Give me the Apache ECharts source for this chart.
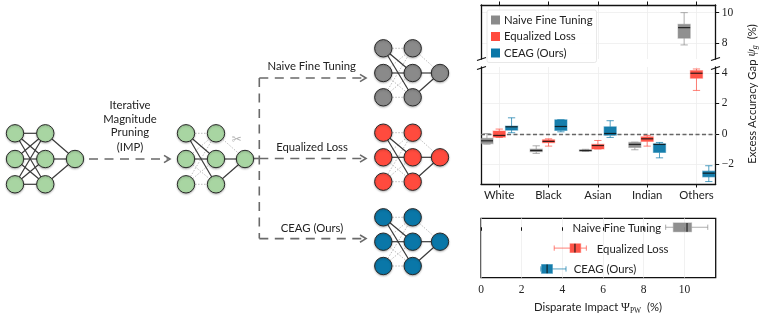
<!DOCTYPE html>
<html><head><meta charset="utf-8">
<style>html,body{margin:0;padding:0;background:#fff}#c{width:761px;height:316px}</style>
<script src="https://cdn.jsdelivr.net/npm/echarts@6/dist/echarts.min.js"></script>
</head><body><div id="c"></div>
<script>
// ---- chart data: [low whisker, q1, median, q3, high whisker]
const groups = ['White','Black','Asian','Indian','Others'];
const methods = ['Naive Fine Tuning','Equalized Loss','CEAG (Ours)'];
const colors = ['#8a8a8a','#ff4b3e','#0a77a8'];
const naiveGap = [[-0.68,-0.64,-0.46,-0.30,0.02],[-1.29,-1.18,-1.10,-1.00,-0.79],[-1.16,-1.14,-1.10,-1.05,-1.02],[-1.05,-0.90,-0.70,-0.57,-0.55],[7.89,8.33,9.02,9.24,10.0]];
const equalGap = [[-0.24,-0.22,-0.11,0.18,0.31],[-0.81,-0.59,-0.50,-0.39,-0.33],[-1.00,-1.00,-0.77,-0.70,-0.44],[-0.81,-0.50,-0.33,-0.20,-0.11],[2.85,3.65,3.98,4.15,4.26]];
const ceagGap = [[0.07,0.24,0.46,0.50,1.05],[0.13,0.22,0.48,0.92,0.92],[-0.24,-0.09,0.02,0.46,0.86],[-1.58,-1.23,-0.70,-0.66,-0.57],[-3.14,-2.83,-2.59,-2.46,-2.10]];
const gapByMethod = [naiveGap, equalGap, ceagGap];
const impactByMethod = [[9.08,9.46,10.13,10.35,11.15],[3.60,4.38,4.62,4.90,5.18],[2.94,2.98,3.25,3.51,4.18]];
const xTickValues = [0,1,2,3,4];
const upperTicks = [8,10];
const lowerTicks = [-2,0,2,4];
const impactTicks = [0,2,4,6,8,10];

// ---- schematic layout (drawing only)
const netGreen = '#a8d5a2';
const netLayouts = [
  {xs:[15,45.3,75],   ys:[133.3,159,184.3], color:netGreen, full:true},
  {xs:[186,216,245],  ys:[133.3,159,184.3], color:netGreen},
  {xs:[383.3,412.7,440], ys:[48.3,73,97.3], color:colors[1-1]},
  {xs:[383.3,412.7,440], ys:[132.7,157.3,181.7], color:colors[1]},
  {xs:[383.3,412.7,440], ys:[217.3,241.7,266], color:colors[2]}
];
const fullEdges = [[0,3],[0,4],[0,5],[1,3],[1,4],[1,5],[2,3],[2,4],[2,5],[3,6],[4,6],[5,6]];
const keptEdges = [[0,4],[0,5],[1,4],[4,6],[5,6]];
const prunedEdges = [[0,3],[1,3],[1,5],[2,3],[2,4],[2,5],[3,6]];
const dashPaths = [
  [[89,159],[168,159]],
  [[254,158.5],[259.3,158.5]],
  [[259.3,78],[259.3,238.6]],
  [[259.3,78],[365,78]],
  [[259.3,158.5],[365,158.5]],
  [[259.3,238.6],[365,238.6]]
];
const arrowTips = [[170,159],[366,78],[366,158.5],[366,238.6]];
const breakMarks = [[477,60.5,486,57.5],[477,69.5,486,66.5],[711,60.5,720,57.5],[711,69.5,720,66.5]];

const SANS = 'Lato';
const SERIF = '"Liberation Serif"';
const L = 481, W = 234.7;
const frame = {color:'#111', width:1.3};

function boxItem(vals, pos, half, horizontal, color, api){
  const pt = (v, p) => horizontal ? api.coord([v, p]) : api.coord([p, v]);
  const seg = (a,b,style) => ({type:'line', shape:{x1:a[0],y1:a[1],x2:b[0],y2:b[1]}, style});
  const [lo,q1,med,q3,hi] = vals;
  const wh = {stroke:color, opacity:0.7, lineWidth:1};
  const capH = half*0.6;
  const c1 = pt(q1,pos-half), c2 = pt(q3,pos+half);
  return {type:'group', children:[
    seg(pt(lo,pos),pt(q1,pos),wh), seg(pt(q3,pos),pt(hi,pos),wh),
    seg(pt(lo,pos-capH),pt(lo,pos+capH),wh), seg(pt(hi,pos-capH),pt(hi,pos+capH),wh),
    {type:'rect', shape:{x:Math.min(c1[0],c2[0]),y:Math.min(c1[1],c2[1]),width:Math.abs(c2[0]-c1[0]),height:Math.abs(c2[1]-c1[1])},
      style:{fill:color, stroke:color, strokeOpacity:0.45, lineWidth:1.2, opacity:0.95}},
    seg(pt(med,pos-half),pt(med,pos+half),{stroke:'#111', lineWidth:1.2, opacity:0.85})
  ]};
}
const series = [];
methods.forEach((name,m)=>{
  const offset = (m-1)*0.25;
  [0,1].forEach(panel=>{
    series.push({
      type:'custom', name, coordinateSystem:'cartesian2d', xAxisIndex:panel, yAxisIndex:panel*2, clip:true, z:3,
      itemStyle:{color:colors[m]},
      data: gapByMethod[m].map((v,i)=>[i].concat(v)),
      encode:{x:0,y:[1,2,3,4,5]},
      renderItem:(p,api)=>boxItem([1,2,3,4,5].map(k=>api.value(k)), api.value(0)+offset, 0.123, false, colors[m], api),
      markLine: panel===1&&m===0 ? {silent:true,symbol:'none',label:{show:false},animation:false,
        lineStyle:{color:'#666',type:[4,2.5],width:1.4},data:[{yAxis:0}],z:1} : undefined
    });
  });
  series.push({
    type:'custom', name, coordinateSystem:'cartesian2d', xAxisIndex:2, yAxisIndex:4, clip:true, z:3,
    itemStyle:{color:colors[m]},
    data:[[m].concat(impactByMethod[m])],
    encode:{x:[1,2,3,4,5],y:0},
    renderItem:(p,api)=>boxItem([1,2,3,4,5].map(k=>api.value(k)), api.value(0), 0.21, true, colors[m], api)
  });
});

// ---- schematic on a hidden page-sized cartesian grid
const edgeData = [];
netLayouts.forEach(n=>{
  const px = i => i<3?[n.xs[0],n.ys[i]]: i<6?[n.xs[1],n.ys[i-3]]:[n.xs[2],n.ys[1]];
  const add=(list,kept)=>list.forEach(([a,b])=>edgeData.push([...px(a),...px(b),kept]));
  if(n.full) add(fullEdges,1); else { add(prunedEdges,0); add(keptEdges,1); }
});
series.push({type:'custom',silent:true,xAxisIndex:3,yAxisIndex:5,z:1,data:edgeData,encode:{x:[0,2],y:[1,3]},
  renderItem:(p,api)=>{
    const a=api.coord([api.value(0),api.value(1)]),b=api.coord([api.value(2),api.value(3)]),k=api.value(4);
    return {type:'line',shape:{x1:a[0],y1:a[1],x2:b[0],y2:b[1]},
      style:k?{stroke:'#3a3a3a',lineWidth:1.2}:{stroke:'#b5b5b5',lineWidth:0.9,lineDash:[1.5,1.5]}};
  }});
const nodeData=[];
netLayouts.forEach(n=>{
  n.ys.forEach(y=>{nodeData.push({value:[n.xs[0],y],itemStyle:{color:n.color}});nodeData.push({value:[n.xs[1],y],itemStyle:{color:n.color}});});
  nodeData.push({value:[n.xs[2],n.ys[1]],itemStyle:{color:n.color}});
});
series.push({type:'scatter',silent:true,xAxisIndex:3,yAxisIndex:5,z:2,symbolSize:17.4,data:nodeData,
  itemStyle:{opacity:1,borderColor:'#2a2a2a',borderWidth:1,shadowBlur:2,shadowColor:'rgba(0,0,0,.25)',shadowOffsetY:1},animation:false});
series.push({type:'custom',silent:true,xAxisIndex:3,yAxisIndex:5,z:1,data:dashPaths.map(d=>[...d[0],...d[1]]),encode:{x:[0,2],y:[1,3]},
  renderItem:(p,api)=>{
    const a=api.coord([api.value(0),api.value(1)]),b=api.coord([api.value(2),api.value(3)]);
    return {type:'line',shape:{x1:a[0],y1:a[1],x2:b[0],y2:b[1]},style:{stroke:'#6a6a6a',lineWidth:1.6,lineDash:[9,6.5]}};
  }});
series.push({type:'custom',silent:true,xAxisIndex:3,yAxisIndex:5,z:1,data:arrowTips,encode:{x:0,y:1},
  renderItem:(p,api)=>{
    const c=api.coord([api.value(0),api.value(1)]);
    return {type:'polyline',shape:{points:[[c[0]-6,c[1]-3.6],[c[0],c[1]],[c[0]-6,c[1]+3.6]]},style:{stroke:'#6a6a6a',fill:'none',lineWidth:1.6}};
  }});
series.push({type:'custom',silent:true,xAxisIndex:3,yAxisIndex:5,z:6,data:breakMarks,encode:{x:[0,2],y:[1,3]},
  renderItem:(p,api)=>{
    const a=api.coord([api.value(0),api.value(1)]),b=api.coord([api.value(2),api.value(3)]);
    return {type:'line',shape:{x1:a[0],y1:a[1],x2:b[0],y2:b[1]},style:{stroke:'#111',lineWidth:1.2}};
  }});

const tickStyle = {show:true,length:3.5,lineStyle:{color:'#111',width:1},inside:false};
const split = {show:true,lineStyle:{color:'#eeeeee',width:0.8}};
const numLabel = {fontFamily:SERIF,fontSize:11.5,color:'#222'};
const fmtNum = v => String(v).replace('-','\u2212');
const sideAxes = (grid,min,max,ticks,extra) => [
  Object.assign({type:'value',gridIndex:grid,position:'right',min,max,
    axisLine:{show:true,onZero:false,lineStyle:frame},axisTick:Object.assign({customValues:ticks},tickStyle),
    axisLabel:Object.assign({customValues:ticks,margin:6,formatter:fmtNum,showMinLabel:true,showMaxLabel:true},numLabel),splitLine:split},extra),
  {type:'value',gridIndex:grid,position:'left',min,max,axisLine:{show:true,onZero:false,lineStyle:frame},axisTick:{show:false},axisLabel:{show:false},splitLine:{show:false}}
];

const t = (text,x,y,extra) => ({type:'text',x,y,z:10,silent:true,style:Object.assign({text,fill:'#222',font:'11.3px '+SANS,align:'center',verticalAlign:'middle'},extra||{})});
const mathRich = {
  g:{fontFamily:SERIF,fontStyle:'italic',fontSize:12,lineHeight:14,fill:'#222'},
  s:{fontFamily:SERIF,fontStyle:'italic',fontSize:8,lineHeight:14,verticalAlign:'bottom',fill:'#222'},
  p:{fontFamily:SERIF,fontSize:7.5,lineHeight:14,verticalAlign:'bottom',fill:'#222'}
};
const option = {
  animation:false,
  backgroundColor:'#fff',
  legend:{
    orient:'vertical',left:487,top:10,padding:[4.5,4,4,4],itemWidth:9,itemHeight:9,itemGap:5.5,icon:'rect',
    data:methods,backgroundColor:'rgba(255,255,255,.92)',borderColor:'#e2e2e2',borderWidth:0.8,borderRadius:2,z:8,
    textStyle:{fontFamily:SANS,fontSize:11.3,color:'#222',padding:[0,0,0,-1]},selectedMode:false
  },
  grid:[
    {left:L,width:W,top:5,height:54},
    {left:L,width:W,top:67,height:117},
    {left:L,width:W,top:218.3,height:59.4,show:true,borderColor:'#111',borderWidth:1.3,backgroundColor:'transparent'},
    {left:0,top:0,width:761,height:316}
  ],
  xAxis:[
    {type:'value',gridIndex:0,position:'top',min:-0.37,max:4.39,axisLine:{show:true,onZero:false,lineStyle:frame},
      axisTick:Object.assign({customValues:xTickValues},tickStyle),axisLabel:{show:false},splitLine:split},
    {type:'value',gridIndex:1,position:'bottom',min:-0.37,max:4.39,axisLine:{show:true,onZero:false,lineStyle:frame},
      axisTick:Object.assign({customValues:xTickValues},tickStyle),
      axisLabel:{customValues:xTickValues,margin:6,fontFamily:SANS,fontSize:11.3,color:'#222',formatter:v=>groups[v]},splitLine:split},
    {type:'value',gridIndex:2,min:0,max:11.54,axisLine:{show:false},
      axisTick:Object.assign({customValues:impactTicks},tickStyle),
      axisLabel:Object.assign({customValues:impactTicks,margin:6},numLabel),splitLine:split},
    {type:'value',gridIndex:3,min:0,max:761,show:false}
  ],
  yAxis:[
    ...sideAxes(0,6.97,10.5,upperTicks,{splitNumber:2}),
    ...sideAxes(1,-3.3,4.39,lowerTicks,{}),
    {type:'value',gridIndex:2,inverse:true,min:-0.43,max:2.42,axisLine:{show:false},axisTick:{show:false},axisLabel:{show:false},splitLine:{show:false}},
    {type:'value',gridIndex:3,inverse:true,min:0,max:316,show:false}
  ],
  series,
  graphic:[
    t('Iterative',130,105.7),t('Magnitude',130,119.2),t('Pruning',130,132.7),t('(IMP)',130,147.2),
    t('Naive Fine Tuning',311.7,66.7),t('Equalized Loss',312,147.3),t('CEAG (Ours)',312,228.3),
    t('\u2702',236.7,140,{font:'12px "DejaVu Sans"',fill:'#b0b0b0'}),
    t('Naive Fine Tuning',616.8,228),t('Equalized Loss',632.6,249),t('CEAG (Ours)',605,269.3),
    {type:'text',x:752,y:94,rotation:Math.PI/2,z:10,silent:true,style:{
      text:'Excess Accuracy Gap {g|\u03C8}{s|g}  (%)',fill:'#222',font:'11.3px '+SANS,align:'center',verticalAlign:'middle',rich:mathRich}},
    {type:'text',x:598,y:307.7,z:10,silent:true,style:{
      text:'Disparate Impact {g|\u03A8}{p|PW}  (%)',fill:'#222',font:'11.3px '+SANS,align:'center',verticalAlign:'middle',
      rich:{g:{fontFamily:SERIF,fontSize:12,lineHeight:14,fill:'#222'},p:mathRich.p}}}
  ]
};
echarts.init(document.getElementById('c'),null,{renderer:'canvas'}).setOption(option);
</script></body></html>
